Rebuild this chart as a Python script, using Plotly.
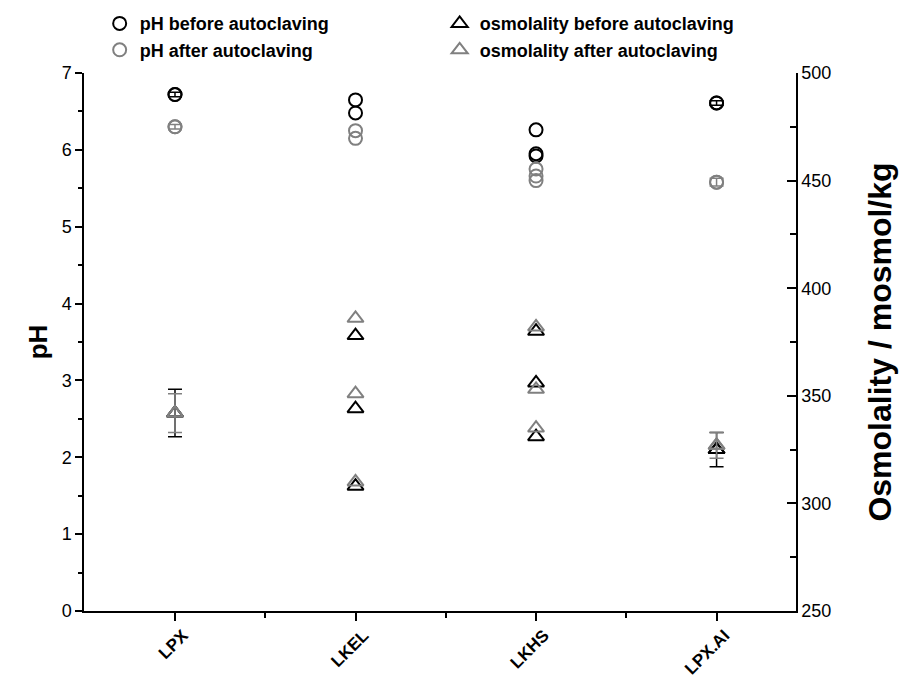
import plotly.graph_objects as go

# Formulations along the x axis
categories = ["LPX", "LKEL", "LKHS", "LPX.AI"]
cat_pos = {c: i + 1 for i, c in enumerate(categories)}

# pH values per formulation (individual batches)
ph_before_cat = ["LPX", "LKEL", "LKEL", "LKHS", "LKHS", "LKHS", "LPX.AI"]
ph_before = [6.72, 6.65, 6.48, 6.26, 5.95, 5.92, 6.61]
ph_before_err = [0.03, 0, 0, 0, 0, 0, 0.03]

ph_after_cat = ["LPX", "LKEL", "LKEL", "LKHS", "LKHS", "LKHS", "LPX.AI"]
ph_after = [6.30, 6.25, 6.15, 5.75, 5.66, 5.60, 5.58]
ph_after_err = [0.03, 0, 0, 0, 0, 0, 0.05]

# Osmolality values (mosmol/kg)
osm_before_cat = ["LPX", "LKEL", "LKEL", "LKEL", "LKHS", "LKHS", "LKHS", "LPX.AI"]
osm_before = [342, 378, 344, 308, 380, 356, 331, 325]
osm_before_err = [11, 0, 0, 0, 0, 0, 0, 8]

osm_after_cat = ["LPX", "LKEL", "LKEL", "LKEL", "LKHS", "LKHS", "LKHS", "LPX.AI"]
osm_after = [342, 386, 351, 310, 382, 353, 335, 327]
osm_after_err = [9, 0, 0, 0, 0, 0, 0, 6]

BLACK = "#000000"
GREY = "#808080"
FONT = "Arial, Liberation Sans, sans-serif"

fig = go.Figure()


def add_series(name, cats, vals, errs, color, symbol, yaxis, size):
    xs = [cat_pos[c] for c in cats]
    fig.add_trace(go.Scatter(
        x=xs, y=vals, mode="markers", name=name, yaxis=yaxis,
        marker=dict(symbol=symbol, size=size, color=color,
                    line=dict(color=color, width=2)),
    ))
    # points that carry a standard deviation
    ex = [x for x, e in zip(xs, errs) if e]
    ev = [v for v, e in zip(vals, errs) if e]
    ee = [e for e in errs if e]
    if ex:
        fig.add_trace(go.Scatter(
            x=ex, y=ev, mode="markers", showlegend=False, yaxis=yaxis,
            marker=dict(symbol=symbol, size=size, color=color,
                        line=dict(color=color, width=2)),
            error_y=dict(type="data", array=ee, visible=True,
                         color=color, thickness=1.5, width=7),
        ))


# legend order gives two columns: pH | osmolality
add_series("pH before autoclaving", ph_before_cat, ph_before, ph_before_err,
           BLACK, "circle-open", "y", 13)
add_series("osmolality before autoclaving", osm_before_cat, osm_before, osm_before_err,
           BLACK, "triangle-up-open", "y2", 14)
add_series("pH after autoclaving", ph_after_cat, ph_after, ph_after_err,
           GREY, "circle-open", "y", 13)
add_series("osmolality after autoclaving", osm_after_cat, osm_after, osm_after_err,
           GREY, "triangle-up-open", "y2", 14)

fig.update_layout(
    width=901, height=682,
    margin=dict(l=84, r=105, t=73, b=71, autoexpand=False),
    paper_bgcolor="white", plot_bgcolor="white",
    font=dict(family=FONT, color="black"),
    showlegend=True,
    legend=dict(
        orientation="h", x=0.022, y=1.126, xanchor="left", yanchor="top",
        entrywidth=295, entrywidthmode="pixels",
        font=dict(size=18, family=FONT, color="black", weight="bold"),
        bgcolor="rgba(0,0,0,0)", tracegroupgap=0,
    ),
    xaxis=dict(
        range=[0.496, 4.44], tickvals=[1, 2, 3, 4], ticktext=categories,
        tickangle=-45, ticks="outside", ticklen=8, tickwidth=1.5, tickcolor="black",
        ticklabelshift=8, ticklabelstandoff=-2, automargin=False,
        minor=dict(tickvals=[1.5, 2.5, 3.5], ticks="outside", ticklen=5,
                   tickwidth=1.5, tickcolor="black"),
        showline=True, linecolor="black", linewidth=1.5,
        showgrid=False, zeroline=False,
        tickfont=dict(size=17, family=FONT, weight="bold"),
    ),
    yaxis=dict(
        range=[0, 7], dtick=1, ticks="outside", ticklen=7, tickwidth=1.5,
        tickcolor="black", automargin=False,
        minor=dict(dtick=0.5, ticks="outside", ticklen=4, tickwidth=1.5,
                   tickcolor="black"),
        showline=True, linecolor="black", linewidth=1.5,
        showgrid=False, zeroline=False,
        tickfont=dict(size=18, family=FONT),
        title=dict(text="pH", font=dict(size=26, family=FONT, weight="bold"),
                   standoff=7),
    ),
    yaxis2=dict(
        range=[250, 500], dtick=50, overlaying="y", side="right",
        ticks="inside", ticklen=9, tickwidth=1.5, tickcolor="black",
        automargin=False,
        minor=dict(dtick=25, ticks="inside", ticklen=6, tickwidth=1.5,
                   tickcolor="black"),
        showline=True, linecolor="black", linewidth=1.5,
        showgrid=False, zeroline=False,
        tickfont=dict(size=18, family=FONT),
        title=dict(text="Osmolality / mosmol/kg",
                   font=dict(size=32, family=FONT, weight="bold"), standoff=38),
    ),
)

fig.write_html("out.html")
